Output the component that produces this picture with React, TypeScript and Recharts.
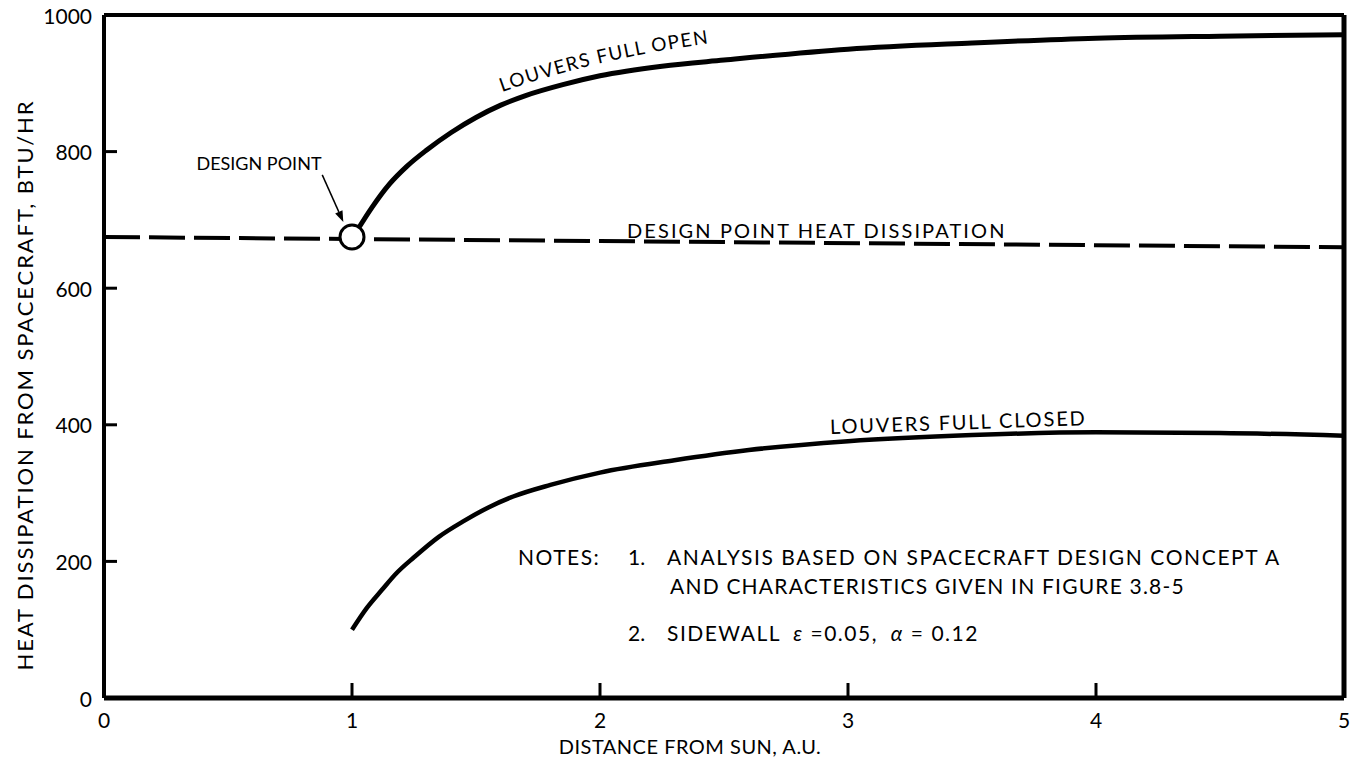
import React from "react";
import { LineChart, Line, XAxis, YAxis, ReferenceLine, ReferenceDot } from "recharts";

const FONT = "Lato, 'Open Sans', sans-serif";

// axis ticks
const xTicks = [0, 1, 2, 3, 4, 5];
const yTicks = [0, 200, 400, 600, 800, 1000];

// louvers full open
const openX = [1.03, 1.08, 1.15, 1.22, 1.3, 1.4, 1.5, 1.6, 1.7, 1.85, 2.0, 2.25, 2.5, 3.0, 3.5, 4.0, 4.5, 5.0];
const openY = [690, 718, 752, 778, 802, 828, 850, 868, 882, 898, 911, 925, 934, 950, 959, 966, 969, 971];

// louvers full closed
const closedX = [1.0, 1.06, 1.12, 1.18, 1.25, 1.35, 1.45, 1.55, 1.65, 1.8, 2.0, 2.3, 2.6, 3.0, 3.5, 4.0, 4.5, 5.0];
const closedY = [100, 132, 158, 183, 206, 236, 259, 279, 295, 312, 330, 348, 363, 376, 385, 389, 388, 384];

// design point heat dissipation (dashed)
const designX = [0, 5];
const designY = [675, 660];

// design point marker
const designPoint = { x: 1.0, y: 675 };

const toPoints = (xs: number[], ys: number[]) => xs.map((x, i) => ({ x, y: ys[i] }));

const openData = toPoints(openX, openY);
const closedData = toPoints(closedX, closedY);
const designData = toPoints(designX, designY);

const YTick = (props: any) => {
    const { x, y, payload } = props;
    const v = payload.value;
    const mark = v > 0 && v < 1000;
    return (
        <g>
            {mark && <line x1={x} x2={x + 13} y1={y} y2={y} stroke="#000" strokeWidth={3} />}
            <text x={x - 12} y={y} textAnchor="end" dominantBaseline="central" fontSize={21} fontFamily={FONT} fill="#000">
                {v}
            </text>
        </g>
    );
};

const XTick = (props: any) => {
    const { x, y, payload } = props;
    const v = payload.value;
    const mark = v > 0 && v < 5;
    return (
        <g>
            {mark && <line x1={x} x2={x} y1={y} y2={y - 15} stroke="#000" strokeWidth={3} />}
            <text x={x} y={y + 21} textAnchor="middle" dominantBaseline="central" fontSize={21} fontFamily={FONT} fill="#000">
                {v}
            </text>
        </g>
    );
};

// arrow from the "DESIGN POINT" label to the circle
const Arrow = (props: any) => {
    const { x1, y1, x2, y2 } = props;
    const ang = Math.atan2(y2 - y1, x2 - x1);
    const len = 11;
    const w = 4;
    const bx = x2 - len * Math.cos(ang);
    const by = y2 - len * Math.sin(ang);
    const px = -Math.sin(ang) * w;
    const py = Math.cos(ang) * w;
    return (
        <g>
            <line x1={x1} y1={y1} x2={bx} y2={by} stroke="#000" strokeWidth={1.5} />
            <polygon points={`${x2},${y2} ${bx + px},${by + py} ${bx - px},${by - py}`} fill="#000" />
        </g>
    );
};

const txt = { fontFamily: FONT, fill: "#000" };

export default function App() {
    return (
        <div style={{ position: "relative", width: 1364, height: 769, margin: "-8px 0 0 -8px", background: "#fff" }}>
            <LineChart width={1364} height={769} margin={{ top: 15, right: 20, left: 0, bottom: 0 }}>
                <XAxis
                    type="number"
                    dataKey="x"
                    domain={[0, 5]}
                    ticks={xTicks}
                    tick={<XTick />}
                    tickSize={0}
                    tickMargin={0}
                    tickLine={false}
                    height={71}
                    axisLine={{ stroke: "#000", strokeWidth: 5 }}
                    allowDuplicatedCategory={false}
                />
                <YAxis
                    type="number"
                    dataKey="y"
                    domain={[0, 1000]}
                    ticks={yTicks}
                    tick={<YTick />}
                    tickSize={0}
                    tickMargin={0}
                    tickLine={false}
                    width={104}
                    axisLine={{ stroke: "#000", strokeWidth: 4 }}
                />
                {/* frame top + right */}
                <ReferenceLine y={1000} stroke="#000" strokeWidth={4} />
                <ReferenceLine x={5} stroke="#000" strokeWidth={5} />

                <Line data={designData} dataKey="y" type="linear" stroke="#000" strokeWidth={4} strokeDasharray="36 9" dot={false} isAnimationActive={false} />
                <Line data={openData} dataKey="y" type="monotone" stroke="#000" strokeWidth={5} dot={false} isAnimationActive={false} />
                <Line data={closedData} dataKey="y" type="monotone" stroke="#000" strokeWidth={4.5} dot={false} isAnimationActive={false} />

                <ReferenceLine
                    segment={[{ x: 0.88, y: 766 }, { x: 0.965, y: 697 }]}
                    shape={<Arrow />}
                />
                <ReferenceDot x={designPoint.x} y={designPoint.y} r={12} fill="#fff" stroke="#000" strokeWidth={3} />
            </LineChart>

            <svg width={1364} height={769} style={{ position: "absolute", left: 0, top: 0, pointerEvents: "none" }}>
                <defs>
                    <path id="openLabelPath" d="M 502 92 Q 592 60 704 44" fill="none" />
                </defs>
                <text {...txt} x={24} y={385} fontSize={22} letterSpacing={1.9} textAnchor="middle" dominantBaseline="central" transform="rotate(-90 24 385)">
                    HEAT DISSIPATION FROM SPACECRAFT, BTU/HR
                </text>
                <text {...txt} x={690} y={746} fontSize={20} letterSpacing={0.5} textAnchor="middle" dominantBaseline="central">
                    DISTANCE FROM SUN, A.U.
                </text>

                <text {...txt} x={259} y={163} fontSize={18} textAnchor="middle" dominantBaseline="central">
                    DESIGN POINT
                </text>
                <text {...txt} fontSize={19} letterSpacing={1.4}>
                    <textPath href="#openLabelPath">LOUVERS FULL OPEN</textPath>
                </text>
                <text {...txt} x={627} y={230} fontSize={20} letterSpacing={2.1} dominantBaseline="central">
                    DESIGN POINT HEAT DISSIPATION
                </text>
                <text {...txt} x={830} y={426} fontSize={20} letterSpacing={1.85} dominantBaseline="central" transform="rotate(-2 830 426)">
                    LOUVERS FULL CLOSED
                </text>

                <text {...txt} x={518} y={556} fontSize={21} letterSpacing={1.5} dominantBaseline="central">NOTES:</text>
                <text {...txt} x={628} y={556} fontSize={21} dominantBaseline="central">1.</text>
                <text {...txt} x={667} y={556} fontSize={21} letterSpacing={1.6} dominantBaseline="central">
                    ANALYSIS BASED ON SPACECRAFT DESIGN CONCEPT A
                </text>
                <text {...txt} x={670} y={585} fontSize={21} letterSpacing={1.2} dominantBaseline="central">
                    AND CHARACTERISTICS GIVEN IN FIGURE 3.8-5
                </text>
                <text {...txt} x={628} y={632} fontSize={21} dominantBaseline="central">2.</text>
                <text {...txt} x={667} y={632} fontSize={21} letterSpacing={1.5} dominantBaseline="central">
                    SIDEWALL <tspan fontStyle="italic" dx={6}>ε</tspan> =0.05, <tspan fontStyle="italic" dx={6}>α</tspan> = 0.12
                </text>
            </svg>
        </div>
    );
}
